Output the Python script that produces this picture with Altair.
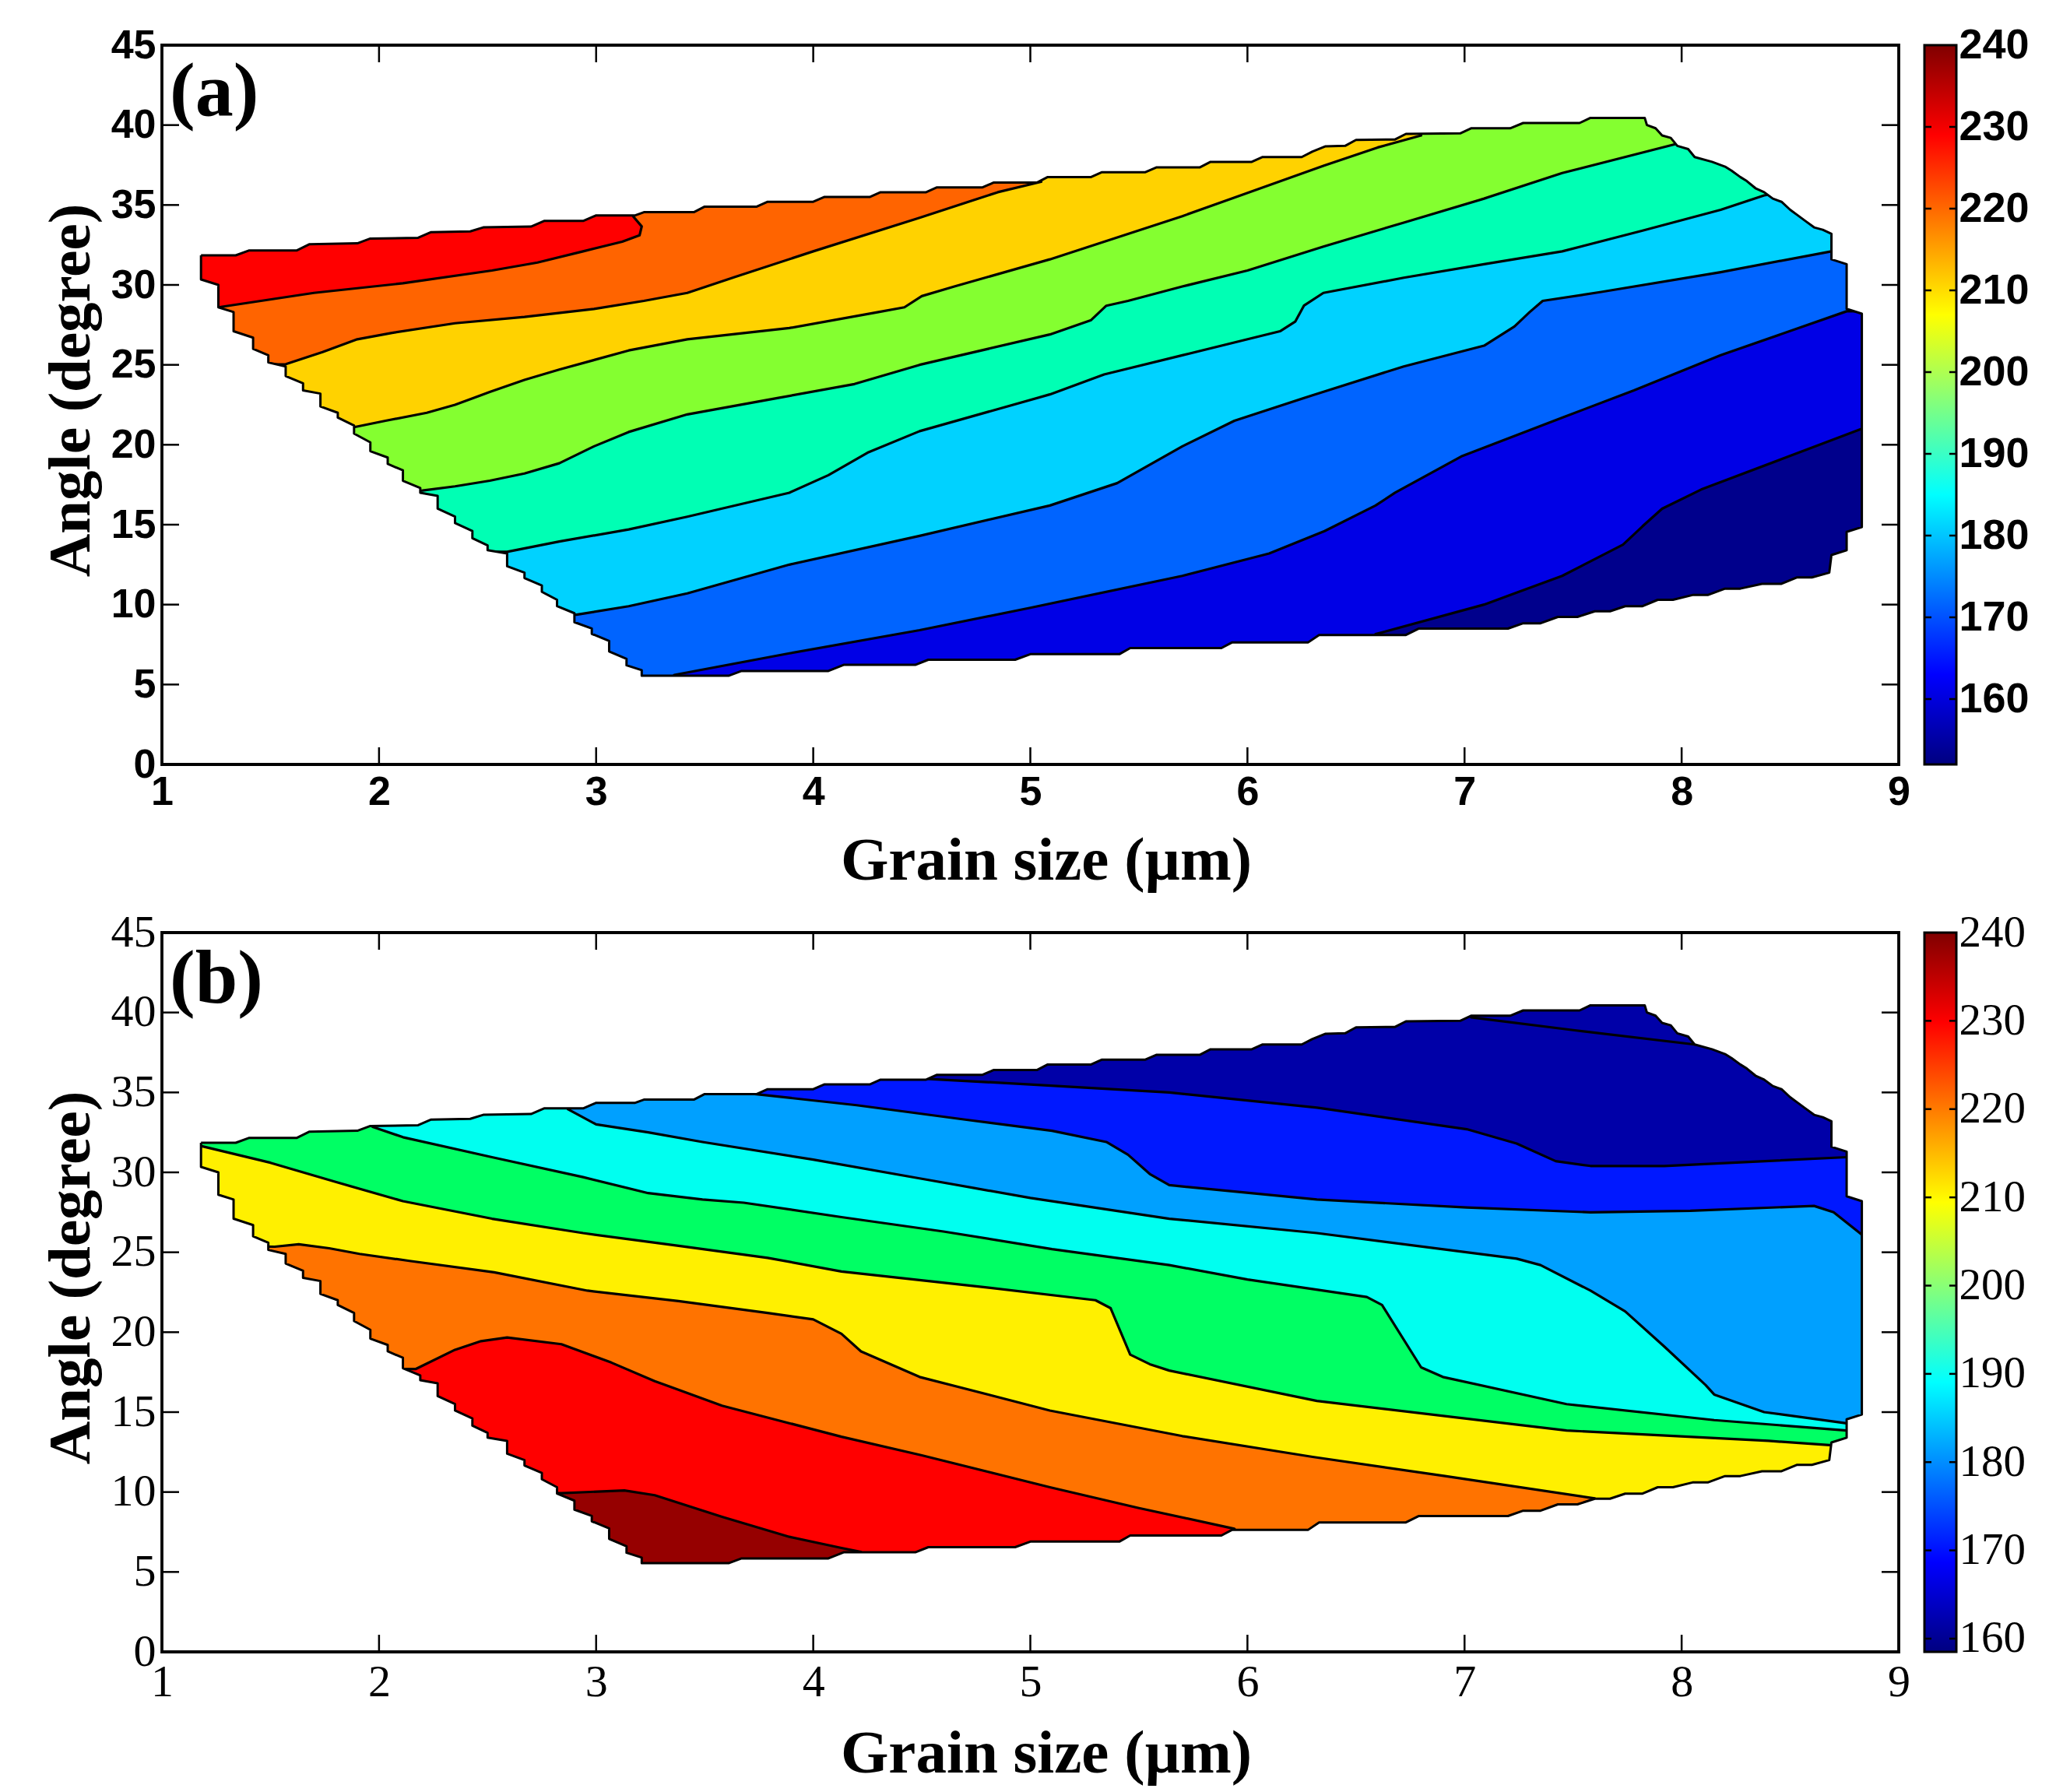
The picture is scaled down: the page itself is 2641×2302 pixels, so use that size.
import altair as alt
import pandas as pd

# ---------------- layout constants (pixels) ----------------
W, H = 2231, 924          # plot area of each contour panel
CB_W = 41                 # colourbar width
TICK = 22                 # inner tick length of the main frame

# ---------------- axis values ----------------
x_ticks = [1, 2, 3, 4, 5, 6, 7, 8, 9]
y_ticks = [0, 5, 10, 15, 20, 25, 30, 35, 40, 45]
cb_values = [160, 170, 180, 190, 200, 210, 220, 230, 240]
cb_a_domain = [152, 240]
cb_b_domain = [158.5, 240]

# ---------------- domain boundary (same grid in both panels) ----------------
TOP_EDGE = [(1.18, 31.85), (1.34, 31.85), (1.40, 32.15), (1.62, 32.15), (1.68, 32.55), (1.90, 32.6),
            (1.96, 32.9), (2.18, 32.95), (2.24, 33.3), (2.42, 33.35), (2.48, 33.6), (2.70, 33.65),
            (2.76, 34.0), (2.94, 34.0), (3.0, 34.35), (3.18, 34.35), (3.22, 34.55), (3.45, 34.55),
            (3.50, 34.9), (3.74, 34.9), (3.79, 35.2), (4.0, 35.2), (4.05, 35.5), (4.26, 35.5),
            (4.31, 35.8), (4.52, 35.8), (4.57, 36.1), (4.78, 36.1), (4.83, 36.4), (5.03, 36.4),
            (5.08, 36.75), (5.28, 36.75), (5.33, 37.05), (5.53, 37.05), (5.58, 37.35), (5.78, 37.35),
            (5.83, 37.7), (6.02, 37.7), (6.07, 38.0), (6.25, 38.0), (6.30, 38.35), (6.36, 38.67),
            (6.45, 38.7), (6.50, 39.07), (6.68, 39.1), (6.73, 39.45), (6.98, 39.48), (7.03, 39.8),
            (7.21, 39.8), (7.27, 40.13), (7.53, 40.13), (7.58, 40.45), (7.83, 40.45)]
RIGHT_EDGE = [(7.84, 40.0), (7.88, 39.8), (7.91, 39.35), (7.95, 39.2), (7.98, 38.7), (8.03, 38.5),
              (8.06, 38.0), (8.14, 37.7), (8.20, 37.4), (8.23, 37.15), (8.27, 36.75), (8.30, 36.5),
              (8.34, 36.05), (8.38, 35.8), (8.42, 35.4), (8.46, 35.2), (8.50, 34.7), (8.53, 34.4),
              (8.57, 34.0), (8.61, 33.6), (8.65, 33.45), (8.69, 33.2), (8.69, 31.6), (8.76, 31.3),
              (8.76, 28.5), (8.83, 28.2), (8.83, 14.85), (8.76, 14.55), (8.76, 13.4), (8.69, 13.1),
              (8.68, 12.0)]
BOTTOM_EDGE = [(3.21, 5.55), (3.61, 5.55), (3.67, 5.85), (4.07, 5.85), (4.14, 6.23), (4.47, 6.23),
               (4.53, 6.55), (4.93, 6.55), (5.0, 6.9), (5.41, 6.9), (5.46, 7.28), (5.88, 7.28),
               (5.93, 7.64), (6.28, 7.64), (6.33, 8.1), (6.73, 8.1), (6.79, 8.5), (7.20, 8.5),
               (7.27, 8.83), (7.35, 8.83), (7.43, 9.23), (7.52, 9.23), (7.60, 9.58), (7.67, 9.58),
               (7.74, 9.9), (7.82, 9.9), (7.89, 10.3), (7.96, 10.3), (8.05, 10.6), (8.12, 10.6),
               (8.20, 11.0), (8.27, 11.0), (8.37, 11.3), (8.46, 11.3), (8.53, 11.7), (8.60, 11.7),
               (8.68, 12.0)]
LEFT_EDGE = [(1.18, 31.85), (1.18, 30.34), (1.26, 30.0), (1.26, 28.6), (1.33, 28.3), (1.33, 27.1),
             (1.42, 26.7), (1.42, 26.0), (1.49, 25.6), (1.49, 25.15), (1.57, 24.9), (1.57, 24.3),
             (1.65, 23.85), (1.65, 23.4), (1.73, 23.2), (1.73, 22.4), (1.81, 22.0), (1.81, 21.7),
             (1.885, 21.2), (1.885, 20.7), (1.96, 20.15), (1.96, 19.6), (2.04, 19.2), (2.04, 18.8),
             (2.11, 18.4), (2.11, 17.75), (2.19, 17.3), (2.19, 17.0), (2.27, 16.8), (2.27, 16.0),
             (2.35, 15.5), (2.35, 15.1), (2.43, 14.6), (2.43, 14.15), (2.50, 13.7), (2.50, 13.4),
             (2.59, 13.2), (2.59, 12.4), (2.67, 12.0), (2.67, 11.66), (2.75, 11.2), (2.75, 10.8),
             (2.82, 10.3), (2.82, 9.9), (2.90, 9.46), (2.90, 8.9), (2.98, 8.5), (2.98, 8.17),
             (3.06, 7.73), (3.06, 7.07), (3.14, 6.6), (3.14, 6.2), (3.21, 5.9), (3.21, 5.55)]

# ---------------- panel (a) contour lines (low -> high) ----------------
A_NAVY_DEEP = [(6.55, 7.0), (6.59, 8.15), (7.09, 10.0), (7.45, 11.8), (7.73, 13.75), (7.82, 14.9),
               (7.91, 16.0), (8.09, 17.2), (8.46, 19.1), (8.83, 21.0), (9.0, 21.1)]
A_DEEP_BLUE = [(3.3, 4.5), (3.36, 5.6), (3.89, 6.95), (4.49, 8.4), (5.0, 9.8), (5.70, 11.8),
               (6.1, 13.2), (6.355, 14.6), (6.59, 16.2), (6.68, 17.0), (6.99, 19.3), (7.45, 21.7),
               (7.78, 23.4), (8.18, 25.6), (8.76, 28.35), (9.0, 28.4)]
A_BLUE_SKY = [(2.6, 9.4), (2.91, 9.37), (3.15, 9.9), (3.42, 10.7), (3.89, 12.5), (4.49, 14.3),
              (5.09, 16.2), (5.40, 17.6), (5.70, 19.9), (5.94, 21.5), (6.30, 23.1), (6.72, 24.9),
              (7.09, 26.2), (7.23, 27.4), (7.30, 28.3), (7.36, 29.0), (7.63, 29.56), (8.18, 30.8),
              (8.69, 32.1), (9.0, 32.3)]
A_SKY_AQUA = [(2.3, 13.3), (2.59, 13.3), (2.83, 13.95), (3.15, 14.7), (3.42, 15.5), (3.89, 17.0),
              (4.07, 18.1), (4.25, 19.5), (4.49, 20.85), (5.09, 23.15), (5.34, 24.4), (5.70, 25.6),
              (6.15, 27.1), (6.22, 27.7), (6.26, 28.7), (6.35, 29.5), (6.72, 30.45), (7.09, 31.3),
              (7.45, 32.1), (7.82, 33.4), (8.18, 34.7), (8.38, 35.6), (8.6, 36.1)]
A_AQUA_GREEN = [(1.9, 17.1), (2.20, 17.14), (2.35, 17.4), (2.51, 17.75), (2.67, 18.2), (2.83, 18.84),
                (2.99, 19.9), (3.15, 20.8), (3.42, 21.9), (4.19, 23.8), (4.49, 25.0), (5.09, 26.9),
                (5.28, 27.8), (5.35, 28.7), (5.45, 29.0), (5.70, 29.9), (6.0, 30.9), (6.35, 32.4),
                (6.72, 33.9), (7.09, 35.4), (7.45, 37.0), (7.97, 38.8), (8.2, 39.6)]
A_GREEN_GOLD = [(1.6, 21.1), (1.885, 21.1), (2.03, 21.5), (2.22, 22.0), (2.35, 22.5), (2.51, 23.3),
                (2.67, 24.06), (2.83, 24.7), (3.15, 25.9), (3.42, 26.6), (3.89, 27.3), (4.3, 28.3),
                (4.42, 28.6), (4.5, 29.3), (4.65, 29.9), (5.09, 31.6), (5.70, 34.3), (6.35, 37.45),
                (6.60, 38.6), (6.80, 39.35), (6.78, 41.0)]
A_GOLD_ORANGE = [(1.3, 25.0), (1.571, 25.04), (1.74, 25.8), (1.90, 26.6), (2.06, 27.0), (2.35, 27.6),
                 (2.67, 28.0), (2.99, 28.5), (3.22, 29.0), (3.42, 29.5), (3.64, 30.5), (4.0, 32.1),
                 (4.49, 34.2), (4.85, 35.8), (5.05, 36.45), (5.03, 38.0)]
A_ORANGE_RED = [(1.0, 28.6), (1.26, 28.6), (1.70, 29.5), (2.11, 30.1), (2.52, 30.9), (2.73, 31.4),
                (2.94, 32.1), (3.12, 32.7), (3.20, 33.1), (3.21, 33.66), (3.17, 34.3), (3.14, 36.0)]

# ---------------- panel (b) contour lines (low -> high) ----------------
B_NAVY_BLUE = [(4.50, 37.5), (4.52, 35.85), (5.0, 35.5), (5.64, 35.0), (6.32, 34.05), (7.01, 32.7),
               (7.24, 31.8), (7.42, 30.7), (7.58, 30.4), (7.92, 30.4), (8.76, 30.95), (9.0, 31.0)]
B_NAVY_INNER = [(7.0, 41.0), (7.03, 39.7), (7.5, 38.9), (8.06, 38.0), (8.3, 38.2)]
B_BLUE_AZURE = [(3.70, 36.5), (3.73, 34.9), (4.2, 34.2), (4.7, 33.3), (5.1, 32.6), (5.35, 31.9),
                (5.45, 31.1), (5.55, 29.9), (5.64, 29.2), (6.32, 28.3), (7.01, 27.8), (7.58, 27.5),
                (8.04, 27.6), (8.61, 27.9), (8.70, 27.5), (8.84, 26.0), (9.0, 25.8)]
B_AZURE_CYAN = [(2.85, 35.5), (2.87, 33.95), (3.0, 33.0), (3.24, 32.5), (3.49, 31.9), (4.0, 30.8),
                (4.5, 29.6), (5.0, 28.4), (5.64, 27.1), (6.32, 26.2), (7.24, 24.6), (7.35, 24.2),
                (7.58, 22.6), (7.74, 21.3), (7.92, 19.1), (8.11, 16.7), (8.15, 16.1), (8.38, 15.0),
                (8.76, 14.3), (9.0, 14.2)]
B_CYAN_GREEN = [(1.95, 34.5), (1.97, 32.85), (2.11, 32.2), (2.52, 30.95), (2.94, 29.7), (3.24, 28.7),
                (3.49, 28.3), (3.68, 28.1), (4.13, 27.2), (4.6, 26.3), (5.1, 25.2), (5.64, 24.2),
                (6.0, 23.3), (6.55, 22.2), (6.62, 21.7), (6.80, 17.8), (6.90, 17.2), (7.47, 15.5),
                (8.15, 14.5), (8.76, 13.85), (9.0, 13.75)]
B_GREEN_YELLOW = [(0.9, 31.7), (1.18, 31.65), (1.50, 30.6), (1.80, 29.4), (2.11, 28.2), (2.52, 27.1),
                  (2.94, 26.2), (3.38, 25.4), (3.79, 24.65), (4.13, 23.8), (4.8, 22.8), (5.3, 22.0),
                  (5.37, 21.5), (5.46, 18.6), (5.55, 18.0), (5.64, 17.6), (6.32, 15.7), (7.47, 13.85),
                  (8.40, 13.2), (8.72, 12.9), (9.0, 12.7)]
B_YELLOW_ORANGE = [(1.2, 25.4), (1.52, 25.35), (1.63, 25.5), (1.77, 25.25), (1.91, 24.9), (2.14, 24.46),
                   (2.53, 23.75), (2.96, 22.6), (3.38, 21.95), (3.79, 21.2), (4.0, 20.8), (4.13, 19.9),
                   (4.22, 18.8), (4.49, 17.2), (5.09, 15.1), (5.70, 13.5), (6.30, 12.2), (6.91, 11.0),
                   (7.6, 9.6), (7.65, 8.5)]
B_ORANGE_RED = [(1.9, 17.7), (2.17, 17.7), (2.35, 18.9), (2.47, 19.44), (2.59, 19.67), (2.84, 19.25),
                (3.07, 18.1), (3.27, 16.94), (3.58, 15.4), (4.13, 13.46), (4.5, 12.3), (5.09, 10.3),
                (5.5, 9.0), (5.94, 7.7), (6.0, 6.5)]
B_RED_DARKRED = [(2.6, 9.95), (2.84, 9.93), (3.13, 10.1), (3.27, 9.8), (3.58, 8.45), (3.89, 7.2),
                 (4.13, 6.5), (4.22, 6.25), (4.25, 5.0)]

# where each line starts (decides how its filled side is closed)
A_STARTS = ["bottom", "bottom", "left", "left", "left", "left", "left", "left"]
B_STARTS = ["top", "top", "top", "top", "left", "left", "left", "left"]

# ---------------- colours ----------------
A_BASE = "#00008C"
A_BANDS = ["#0000E6", "#0064FF", "#00D2FF", "#00FFB4", "#84FF30", "#FFD200", "#FF6400", "#FF0000"]
B_BASE = "#0000A8"
B_BANDS = ["#0018FF", "#00A0FF", "#00FFF0", "#00FF64", "#FFF000", "#FF7300", "#FF0000", "#960000"]
JET = [(0.0, "#000080"), (0.125, "#0000FF"), (0.375, "#00FFFF"), (0.625, "#FFFF00"),
       (0.875, "#FF0000"), (1.0, "#800000")]

A_LINES = [A_NAVY_DEEP, A_DEEP_BLUE, A_BLUE_SKY, A_SKY_AQUA, A_AQUA_GREEN, A_GREEN_GOLD,
           A_GOLD_ORANGE, A_ORANGE_RED]
B_LINES = [B_NAVY_BLUE, B_BLUE_AZURE, B_AZURE_CYAN, B_CYAN_GREEN, B_GREEN_YELLOW, B_YELLOW_ORANGE,
           B_ORANGE_RED, B_RED_DARKRED]

# ---------------- helpers ----------------
FAR_L, FAR_R, FAR_B, FAR_T = -1.0, 10.0, -10.0, 60.0


def ring():
    return list(TOP_EDGE) + list(RIGHT_EDGE) + list(reversed(BOTTOM_EDGE))[1:] + list(reversed(LEFT_EDGE))[1:]


def mask_pts():
    r = ring()
    p0 = r[0]
    return r + [(FAR_L, p0[1]), (FAR_L, FAR_B), (FAR_R, FAR_B), (FAR_R, FAR_T), (FAR_L, FAR_T),
                (FAR_L, p0[1]), p0]


def above(line, start):
    return list(line) + [(FAR_R, FAR_T), (FAR_L, FAR_T), (FAR_L, FAR_B), (line[0][0], FAR_B)]


def below(line, start):
    if start == "top":
        return list(line) + [(FAR_R, FAR_B), (FAR_L, FAR_B), (FAR_L, FAR_T), (line[0][0], FAR_T)]
    return list(line) + [(FAR_R, FAR_B), (line[0][0], FAR_B)]


def df_of(pts):
    return pd.DataFrame({"x": [p[0] for p in pts], "y": [p[1] for p in pts], "i": list(range(len(pts)))})


def panel(lines, starts, base, bands, side, label, tick_font, tick_weight, tick_size, extra_lines=()):
    xs = alt.Scale(domain=[1, 9], nice=False, zero=False)
    ys = alt.Scale(domain=[0, 45], nice=False, zero=False)
    xax = alt.Axis(values=x_ticks, format="d", title="Grain size (µm)", ticks=False, domain=False,
                   grid=False, labelFont=tick_font, labelFontWeight=tick_weight, labelFontSize=tick_size,
                   labelColor="black", labelPadding=10, labelFlush=False,
                   titleFont="Liberation Serif", titleFontWeight="bold", titleFontSize=79,
                   titleColor="black", titlePadding=24, titleX=W / 2 + 20)
    yax = alt.Axis(values=y_ticks, format="d", title="Angle (degree)", ticks=False, domain=False,
                   grid=False, labelFont=tick_font, labelFontWeight=tick_weight, labelFontSize=tick_size,
                   labelColor="black", labelPadding=8, labelFlush=False,
                   titleFont="Liberation Serif", titleFontWeight="bold", titleFontSize=77,
                   titleColor="black", titlePadding=12, titleY=H / 2 - 19)

    def X(f):
        return alt.X(f, type="quantitative", scale=xs, axis=xax)

    def Y(f):
        return alt.Y(f, type="quantitative", scale=ys, axis=yax)

    def filled(pts, color):
        return alt.Chart(df_of(pts)).mark_line(fill=color, stroke=color, strokeWidth=0.6,
                                               clip=True, interpolate="linear").encode(
            x=X("x"), y=Y("y"), order=alt.Order("i:Q"))

    def stroked(pts, width=3.2):
        return alt.Chart(df_of(pts)).mark_line(color="black", strokeWidth=width, clip=True,
                                               interpolate="linear", strokeJoin="round").encode(
            x=X("x"), y=Y("y"), order=alt.Order("i:Q"))

    layers = [filled(ring(), base)]
    close = above if side == "above" else below
    for ln, st, col in zip(lines, starts, bands):
        layers.append(filled(close(ln, st), col))
    for ln in list(lines) + list(extra_lines):
        layers.append(stroked(ln))
    layers.append(alt.Chart(df_of(mask_pts())).mark_line(fill="white", stroke="white", strokeWidth=0,
                                                         clip=True).encode(
        x=X("x"), y=Y("y"), order=alt.Order("i:Q")))
    layers.append(stroked(ring(), 3.0))

    xt = pd.DataFrame({"x": x_ticks[1:-1]})
    yt = pd.DataFrame({"y": y_ticks[1:-1]})
    layers.append(alt.Chart(xt).mark_rule(color="black", strokeWidth=2.5).encode(
        x=X("x"), y=alt.value(H), y2=alt.value(H - TICK)))
    layers.append(alt.Chart(xt).mark_rule(color="black", strokeWidth=2.5).encode(
        x=X("x"), y=alt.value(0), y2=alt.value(TICK)))
    layers.append(alt.Chart(yt).mark_rule(color="black", strokeWidth=2.5).encode(
        y=Y("y"), x=alt.value(0), x2=alt.value(TICK)))
    layers.append(alt.Chart(yt).mark_rule(color="black", strokeWidth=2.5).encode(
        y=Y("y"), x=alt.value(W - TICK), x2=alt.value(W)))
    one = pd.DataFrame({"t": [label]})
    layers.append(alt.Chart(one).mark_rect(fillOpacity=0, stroke="black", strokeWidth=3.8).encode(
        x=alt.value(0), x2=alt.value(W), y=alt.value(0), y2=alt.value(H)))
    layers.append(alt.Chart(one).mark_text(font="Liberation Serif", fontWeight="bold", fontSize=98,
                                           align="left", baseline="alphabetic", color="black").encode(
        text="t:N", x=alt.value(10), y=alt.value(90)))
    return alt.layer(*layers).properties(width=W, height=H)


def colorbar(domain, font, weight, size):
    ys = alt.Scale(domain=domain, nice=False, zero=False)
    yax = alt.Axis(orient="right", values=cb_values, format="d", title=None, ticks=False, domain=False,
                   grid=False, labelFont=font, labelFontWeight=weight, labelFontSize=size,
                   labelPadding=3, labelFlush=False, labelColor="black")
    grad = {"gradient": "linear", "x1": 0, "y1": 1, "x2": 0, "y2": 0,
            "stops": [{"offset": o, "color": c} for o, c in JET]}
    bar_df = pd.DataFrame({"lo": [domain[0]], "hi": [domain[1]]})
    bar = alt.Chart(bar_df).mark_rect(fill=grad, stroke="black", strokeWidth=3).encode(
        y=alt.Y("lo:Q", scale=ys, axis=yax), y2="hi:Q", x=alt.value(0), x2=alt.value(CB_W))
    tdf = pd.DataFrame({"lo": cb_values[:-1]})
    tl = alt.Chart(tdf).mark_rule(color="black", strokeWidth=2.5).encode(
        y=alt.Y("lo:Q", scale=ys, axis=yax), x=alt.value(0), x2=alt.value(9))
    tr = alt.Chart(tdf).mark_rule(color="black", strokeWidth=2.5).encode(
        y=alt.Y("lo:Q", scale=ys, axis=yax), x=alt.value(CB_W - 9), x2=alt.value(CB_W))
    return alt.layer(bar, tl, tr).properties(width=CB_W, height=H)


panel_a = panel(A_LINES, A_STARTS, A_BASE, A_BANDS, "above", "(a)", "Liberation Sans", "bold", 52)
panel_b = panel(B_LINES, B_STARTS, B_BASE, B_BANDS, "below", "(b)", "Liberation Serif", "normal", 58,
                extra_lines=[B_NAVY_INNER])
cbar_a = colorbar(cb_a_domain, "Liberation Sans", "bold", 54)
cbar_b = colorbar(cb_b_domain, "Liberation Serif", "normal", 57)

chart = alt.concat(panel_a, cbar_a, panel_b, cbar_b, columns=2, bounds="flush", align="each",
                   spacing={"row": 216, "column": 33}).properties(
    padding={"left": 43, "top": 22, "right": 5, "bottom": 5}
).configure_view(stroke=None).configure(background="white")

chart.save("out.html", embed_options={"renderer": "svg", "actions": False})
